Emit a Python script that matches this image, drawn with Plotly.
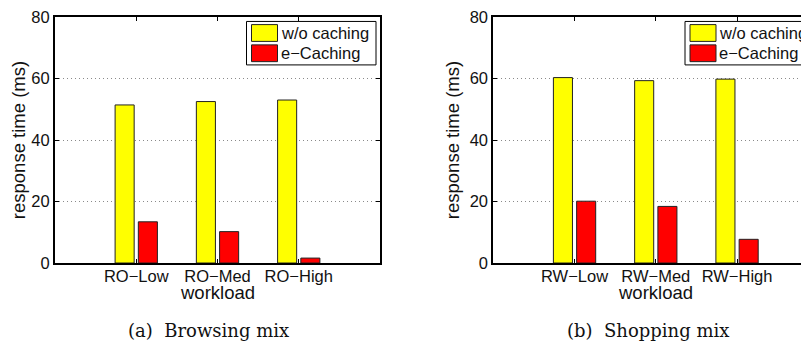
import plotly.graph_objects as go

# ---- data ----
categories_a = ["RO−Low", "RO−Med", "RO−High"]
categories_b = ["RW−Low", "RW−Med", "RW−High"]
series_names = ["w/o caching", "e−Caching"]
wo_caching_a = [51.4, 52.5, 53.0]
e_caching_a = [13.4, 10.2, 1.6]
wo_caching_b = [60.3, 59.3, 59.8]
e_caching_b = [20.1, 18.4, 7.7]
y_ticks = [0, 20, 40, 60, 80]
x_title = "workload"
y_title = "response time (ms)"
captions = ["(a)  Browsing mix", "(b)  Shopping mix"]

# ---- geometry (reference pixel coords; the page body adds an 8px offset) ----
OFF = 8
W, H = 809 - OFF, 343 - OFF
ML, MR, MT, MB = 55 - OFF, 0, 14 - OFF, 80
PW, PH = W - ML - MR, H - MT - MB


def px(x):
    return (x - OFF - ML) / PW


def py(y):
    return (H - MB - (y - OFF)) / PH


colors = ["#FFFF00", "#FF0000"]
edge = "#222222"
sans = "Arial, Liberation Sans, Helvetica, sans-serif"
serif = "DejaVu Serif, serif"

fig = go.Figure()
for cats, vals_list, xa, ya in [
    (categories_a, [wo_caching_a, e_caching_a], "x", "y"),
    (categories_b, [wo_caching_b, e_caching_b], "x2", "y2"),
]:
    for name, vals, col in zip(series_names, vals_list, colors):
        fig.add_trace(go.Bar(
            x=cats, y=vals, name=name, xaxis=xa, yaxis=ya,
            marker=dict(color=col, line=dict(color=edge, width=1)),
            showlegend=False,
        ))

axis_common = dict(
    showline=True, linecolor="black", linewidth=2,
    ticks="inside", ticklen=4, tickwidth=1, tickcolor="black",
    tickfont=dict(family=sans, size=16.5, color="#111"),
    zeroline=False, fixedrange=True, ticklabeloverflow="allow",
)
x_common = dict(axis_common, type="category", showgrid=False, ticklabelstandoff=-3)
y_common = dict(
    axis_common, range=[0, 80], tickvals=y_ticks,
    showgrid=True, gridcolor="#8a8a8a", gridwidth=1, griddash="1px,3px",
    title=dict(text=y_title, font=dict(family=sans, size=18.5, color="#111"), standoff=5),
)

ax1_l, ax1_r = 55, 380
ax2_l = 493.3
unit = (ax1_r - ax1_l) / 4.0
right_end = -1 + (809 - ax2_l) / unit

fig.update_layout(
    width=W, height=H, autosize=False,
    margin=dict(l=ML, r=MR, t=MT, b=MB, pad=0),
    paper_bgcolor="white", plot_bgcolor="white",
    showlegend=False,
    barmode="group", bargap=0.428, bargroupgap=0.18,
    xaxis=dict(x_common, domain=[0, px(ax1_r)], range=[-1, 3], anchor="y", mirror="ticks"),
    yaxis=dict(y_common, domain=[0, 1], anchor="x", mirror="ticks"),
    xaxis2=dict(x_common, domain=[px(ax2_l), 1], range=[-1, right_end], anchor="y2", mirror="ticks"),
    yaxis2=dict(y_common, domain=[0, 1], anchor="x2", mirror=False),
)

shapes = []
annotations = []
# manual legends (right one is cut by the page edge, as in the reference)
for box_l in [246.5, 685.0]:
    box_r = box_l + 129.5
    shapes.append(dict(type="rect", xref="paper", yref="paper",
                       x0=px(box_l), x1=px(box_r), y0=py(62.5), y1=py(18.5),
                       line=dict(color="black", width=1), fillcolor="white", layer="above"))
    for i, (name, col) in enumerate(zip(series_names, colors)):
        top = 21.7 + i * 20.5
        shapes.append(dict(type="rect", xref="paper", yref="paper",
                           x0=px(box_l + 5), x1=px(box_l + 31), y0=py(top + 17), y1=py(top),
                           line=dict(color=edge, width=1), fillcolor=col, layer="above"))
        annotations.append(dict(text=name, xref="paper", yref="paper",
                                x=px(box_l + 32), y=py(top + 8.5), xanchor="left", yanchor="middle",
                                showarrow=False, font=dict(family=sans, size=16.5, color="#111")))

# x-axis titles and captions
for xa, cats, cap_x, cap in [("x", categories_a, 208, captions[0]), ("x2", categories_b, 648, captions[1])]:
    annotations.append(dict(text=x_title, xref=xa, yref="paper", x=cats[1], y=py(293),
                            xanchor="center", yanchor="middle", showarrow=False,
                            font=dict(family=sans, size=18.5, color="#111")))
    annotations.append(dict(text=cap, xref="paper", yref="paper", x=px(cap_x), y=py(331),
                            xanchor="center", yanchor="middle", showarrow=False,
                            font=dict(family=serif, size=18, color="#111")))

fig.update_layout(shapes=shapes, annotations=annotations)
fig.write_html("out.html")
